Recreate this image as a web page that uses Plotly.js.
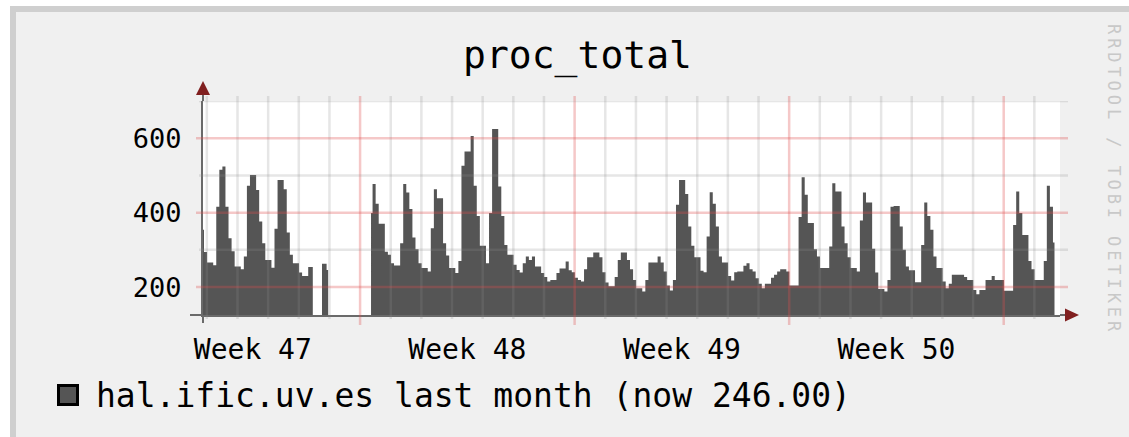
<!DOCTYPE html>
<html><head><meta charset="utf-8">
<script src="https://cdn.plot.ly/plotly-3.0.1.min.js"></script>
<style>
html,body{margin:0;padding:0;background:#fff;width:1129px;height:437px;overflow:hidden}
#frame{position:absolute;left:10px;top:6px;width:1113px;height:425px;border-left:6px solid #cfcfcf;border-top:6px solid #cfcfcf;background:#f0f0f0}
#chart{width:1113px;height:425px}
g.annotation[data-index="0"] .annotation-text{letter-spacing:3.9px}
</style></head><body><div id="frame"><div id="chart"></div></div>
<script>
// ---- data ----
const chartTitle = 'proc_total';
const seriesName = 'hal.ific.uv.es last month (now 246.00)';
const watermark = 'RRDTOOL / TOBI OETIKER';
const firstSample = '2008-11-18 20:34:05';   // centre of the first 2.4 h sample
const stepHours = 2.4;
const xRange = ['2008-11-18 20:59', '2008-12-16 20:05'];
const yRange = [125, 700];
const yTickVals = [200, 400, 600];
const procTotal = [
 354,294,266,266,259,416,515,524,416,331,
 296,255,255,248,282,472,501,501,461,376,
 318,273,273,252,357,488,488,463,347,287,
 264,264,239,230,230,254,254,null,null,263,
 263,246,null,null,null,null,null,null,null,null,
 null,null,null,null,null,399,477,424,370,370,
 295,287,264,258,258,318,477,454,410,333,
 302,264,251,251,242,358,463,439,439,318,
 285,251,251,238,270,526,564,564,606,472,
 391,311,311,264,399,625,625,470,391,313,
 287,287,260,246,239,264,282,273,282,255,
 255,238,227,215,219,219,238,250,250,269,
 245,240,225,219,215,248,280,280,293,293,
 280,240,212,202,202,227,273,293,293,273,
 248,219,197,197,188,219,266,266,266,282,
 266,242,204,191,219,421,488,488,450,363,
 311,280,280,244,240,336,455,424,363,282,
 266,266,230,218,240,242,242,257,264,248,
 242,224,209,197,209,209,225,233,242,248,
 248,242,204,204,204,388,495,448,372,372,
 302,282,251,251,251,309,479,457,457,363,
 318,280,251,251,242,379,454,427,427,303,
 239,195,195,188,219,416,418,418,363,300,
 255,245,245,213,213,313,427,391,354,282,
 251,251,215,197,209,233,233,233,233,227,
 219,219,192,181,192,192,219,219,230,219,
 219,219,190,190,190,367,457,399,340,340,
 270,248,219,219,219,270,472,416,320
];

// ---- helpers ----
const FONT = 'DejaVu Sans Mono';
const toMs = s => Date.parse(s.replace(' ', 'T') + 'Z');
const fmt = ms => new Date(ms).toISOString().slice(0, 19).replace('T', ' ');
const t0 = toMs(firstSample);
const times = procTotal.map((_, i) => fmt(t0 + i * stepHours * 3600000));

const W = 1113, H = 425, M = {l: 187, r: 69, t: 89, b: 122, autoexpand: false};
const plotW = W - M.l - M.r, plotH = H - M.t - M.b;
const GRAY = 'rgba(143,143,143,0.22)', RED = 'rgba(222,79,79,0.31)';
const AXIS = '#6a6a6a', ARROW = '#801f1f', AREA = '#555555';

const shapes = [];
// vertical grid: every day gray, every Monday (week start) red
const DAY = 86400000;
for (let d = Math.ceil(toMs(xRange[0]) / DAY) * DAY; d <= toMs(xRange[1]); d += DAY) {
  const week = new Date(d).getUTCDay() === 1;
  shapes.push({type: 'line', layer: 'above', xref: 'x', yref: 'paper',
    x0: fmt(d), x1: fmt(d), y0: -(week ? 10 : 4) / plotH, y1: 1 + 5 / plotH,
    line: {color: week ? RED : GRAY, width: 2.5}});
}
// horizontal grid
for (let v = 200; v <= 700; v += 100) {
  const major = yTickVals.includes(v);
  shapes.push({type: 'line', layer: 'above', xref: 'paper', yref: 'y',
    x0: -(major ? 7 : 4) / plotW, x1: 1 + 8 / plotW, y0: v, y1: v,
    line: {color: major ? RED : GRAY, width: 2.5}});
}
// axis extensions
shapes.push({type: 'line', layer: 'above', xref: 'paper', yref: 'paper', xsizemode: 'pixel', xanchor: 0,
  x0: -13, x1: 0, y0: 0, y1: 0, line: {color: AXIS, width: 2}});
shapes.push({type: 'line', layer: 'above', xref: 'paper', yref: 'paper', xsizemode: 'pixel', xanchor: 1,
  x0: 0, x1: 6, y0: 0, y1: 0, line: {color: AXIS, width: 2}});
shapes.push({type: 'line', layer: 'above', xref: 'paper', yref: 'paper', ysizemode: 'pixel', yanchor: 0,
  x0: 0, x1: 0, y0: -8, y1: 0, line: {color: AXIS, width: 2}});
shapes.push({type: 'line', layer: 'above', xref: 'paper', yref: 'paper', ysizemode: 'pixel', yanchor: 1,
  x0: 0, x1: 0, y0: 0, y1: 6, line: {color: AXIS, width: 2}});
// arrows
shapes.push({type: 'path', layer: 'above', xref: 'paper', yref: 'paper', xsizemode: 'pixel', ysizemode: 'pixel',
  xanchor: 1, yanchor: 0, path: 'M 5,-6.5 L 5,6.5 L 19,0 Z', fillcolor: ARROW, line: {width: 0}});
shapes.push({type: 'path', layer: 'above', xref: 'paper', yref: 'paper', xsizemode: 'pixel', ysizemode: 'pixel',
  xanchor: 0, yanchor: 1, path: 'M -7,6 L 7,6 L 0,20 Z', fillcolor: ARROW, line: {width: 0}});
// legend swatch
shapes.push({type: 'rect', layer: 'above', xref: 'paper', yref: 'paper', xsizemode: 'pixel', ysizemode: 'pixel',
  xanchor: 0, yanchor: 0, x0: -144.5, x1: -125.5, y0: -70.5, y1: -89.5,
  fillcolor: AREA, line: {color: '#000', width: 3}});

// one filled step trace per run of valid samples (RRD leaves unknown data blank)
const traces = [];
let run = null;
procTotal.forEach((v, i) => {
  if (v === null) { run = null; return; }
  if (!run) {
    run = {type: 'scatter', mode: 'lines', x: [], y: [], name: seriesName,
           line: {shape: 'hvh', width: 0, color: AREA}, fill: 'tozeroy', fillcolor: AREA,
           showlegend: false, hoverinfo: 'skip'};
    traces.push(run);
  }
  run.x.push(times[i]); run.y.push(v);
});

const layout = {
  width: W, height: H, margin: M,
  paper_bgcolor: '#f0f0f0', plot_bgcolor: '#ffffff', showlegend: false,
  title: {text: chartTitle, font: {family: FONT, size: 38, color: '#000'},
          xref: 'container', x: 0.5045, yref: 'container', y: 0.899, yanchor: 'middle'},
  xaxis: {type: 'date', range: xRange, tick0: '2008-11-17', dtick: 7 * DAY,
          ticklabelmode: 'period', tickformat: 'Week %V', ticks: '', showgrid: false,
          zeroline: false, showline: true, linecolor: AXIS, linewidth: 2, tickangle: 0,
          automargin: false,
          ticklabelstandoff: 8, tickfont: {family: FONT, size: 28, color: '#000'}},
  yaxis: {range: yRange, tickvals: yTickVals, ticks: '', showgrid: false, zeroline: false,
          showline: true, linecolor: AXIS, linewidth: 2, ticklabelstandoff: 14, automargin: false,
          tickfont: {family: FONT, size: 27, color: '#000'}},
  shapes: shapes,
  annotations: [
    {text: watermark, xref: 'paper', yref: 'paper', x: 1 + 54 / plotW, y: 0.631,
     showarrow: false, textangle: 90, xanchor: 'center', yanchor: 'middle',
     font: {family: FONT, size: 17, color: '#c8c8c8'}},
    {text: seriesName, xref: 'paper', yref: 'paper', x: -109 / plotW, y: -80 / plotH,
     showarrow: false, xanchor: 'left', yanchor: 'middle',
     font: {family: FONT, size: 33, color: '#000'}}
  ]
};

Plotly.newPlot('chart', traces, layout, {staticPlot: true, displayModeBar: false});
</script></body></html>
